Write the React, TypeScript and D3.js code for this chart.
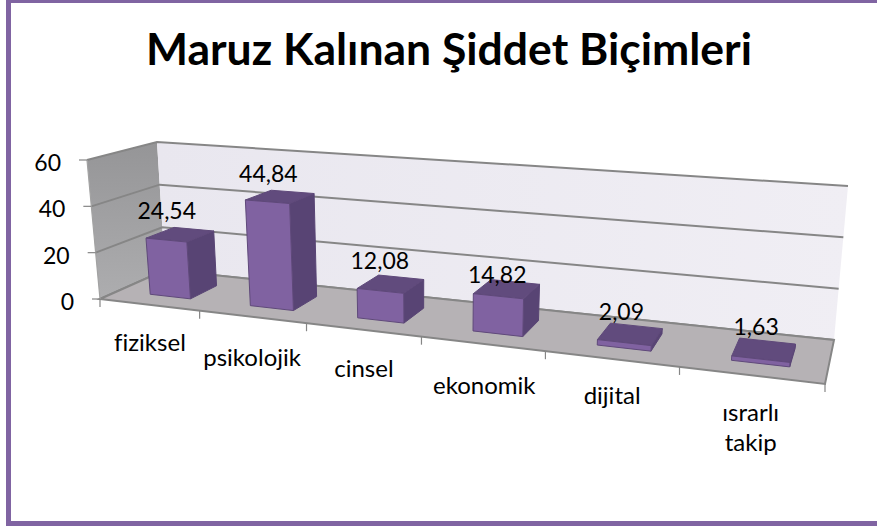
import React, { useRef, useEffect } from "react";
import * as d3 from "d3";

const titleText = "Maruz Kalınan Şiddet Biçimleri";
const categories = ["fiziksel", "psikolojik", "cinsel", "ekonomik", "dijital", "ısrarlı takip"];
const values = [24.54, 44.84, 12.08, 14.82, 2.09, 1.63];
const valueLabels = ["24,54", "44,84", "12,08", "14,82", "2,09", "1,63"];
const yTicks = [0, 20, 40, 60];

const WIDTH = 877;
const HEIGHT = 526;
const FONT = "Lato, 'Open Sans', sans-serif";

// hand nudges for where the text sits relative to its bar / slot
const valueNudge = [[2, 2], [3, 3], [2, 2], [2, 10], [1, 1], [0, 0]];
const categoryNudge = [[1, -1], [0, 2], [1, 0], [2, 3], [1, -2], [0, -2]];

type Pt = [number, number];

// square -> quad perspective map, corners in order front-left, front-right, back-right, back-left
const makeWarp = (q: Pt[]) => {
    const [[x0, y0], [x1, y1], [x2, y2], [x3, y3]] = q;
    const sx = x0 - x1 + x2 - x3;
    const sy = y0 - y1 + y2 - y3;
    const dx1 = x1 - x2;
    const dx2 = x3 - x2;
    const dy1 = y1 - y2;
    const dy2 = y3 - y2;
    const den = dx1 * dy2 - dx2 * dy1;
    const g = (sx * dy2 - dx2 * sy) / den;
    const h = (dx1 * sy - sx * dy1) / den;
    return (u: number, d: number): Pt => {
        const w = g * u + h * d + 1;
        return [
            ((x1 - x0 + g * x1) * u + (x3 - x0 + h * x3) * d + x0) / w,
            ((y1 - y0 + g * y1) * u + (y3 - y0 + h * y3) * d + y0) / w,
        ];
    };
};

const floorWarp = makeWarp([[100, 299], [825, 384], [834, 340], [165, 270]]);
const topWarp = makeWarp([[87, 160], [838, 213.5], [848, 186], [157, 142]]);

const App = () => {
    const svgRef = useRef(null);

    useEffect(() => {
        const svg = d3.select(svgRef.current);
        svg.selectAll("*").remove();

        const xScale = d3.scaleLinear().domain([0, categories.length]).range([0, 1]);
        const yScale = d3.scaleLinear().domain([0, 60]).range([0, 1]);

        // category position (in slots), depth 0-1, value
        const project = (slot: number, depth: number, value: number): Pt => {
            const a = floorWarp(xScale(slot), depth);
            const b = topWarp(xScale(slot), depth);
            const t = yScale(value);
            return [a[0] + (b[0] - a[0]) * t, a[1] + (b[1] - a[1]) * t];
        };

        const path = d3.line().curve(d3.curveLinearClosed);
        const openPath = d3.line();
        const nCat = categories.length;

        const addText = (x: number, y: number, text: any, size: number, anchor = "middle") =>
            svg.append("text")
                .attr("x", x)
                .attr("y", y)
                .attr("text-anchor", anchor)
                .attr("dominant-baseline", "central")
                .style("font-family", FONT)
                .style("font-size", `${size}px`)
                .style("font-variant-ligatures", "none")
                .attr("fill", "#000")
                .text(text);

        const defs = svg.append("defs");
        const wallGrad = defs.append("linearGradient").attr("id", "wall").attr("x1", 0).attr("y1", 0).attr("x2", 1).attr("y2", 0);
        wallGrad.append("stop").attr("offset", "0%").attr("stop-color", "#e9e7ef");
        wallGrad.append("stop").attr("offset", "100%").attr("stop-color", "#f0eef4");
        const sideGrad = defs.append("linearGradient").attr("id", "side").attr("x1", 0).attr("y1", 0).attr("x2", 0).attr("y2", 1);
        sideGrad.append("stop").attr("offset", "0%").attr("stop-color", "#959597");
        sideGrad.append("stop").attr("offset", "100%").attr("stop-color", "#adadaf");

        svg.append("rect").attr("width", WIDTH).attr("height", HEIGHT).attr("fill", "#fff");

        // frame, only top, left and bottom show up in the crop
        const frame = "#8064a2";
        svg.append("rect").attr("x", 6).attr("y", 0).attr("width", 5).attr("height", HEIGHT).attr("fill", frame);
        svg.append("rect").attr("x", 6).attr("y", 0).attr("width", WIDTH).attr("height", 3).attr("fill", frame);
        svg.append("rect").attr("x", 6).attr("y", 521).attr("width", WIDTH).attr("height", 5).attr("fill", frame);

        svg.append("text")
            .attr("x", 449)
            .attr("y", 65)
            .attr("text-anchor", "middle")
            .style("font-family", FONT)
            .style("font-weight", 700)
            .style("font-size", "44.5px")
            .style("font-variant-ligatures", "none")
            .attr("fill", "#000")
            .text(titleText);

        // walls and floor
        svg.append("path")
            .attr("d", path([project(0, 0, 0), project(0, 1, 0), project(0, 1, 60), project(0, 0, 60)]))
            .attr("fill", "url(#side)");
        svg.append("path")
            .attr("d", path([project(0, 1, 0), project(nCat, 1, 0), project(nCat, 1, 60), project(0, 1, 60)]))
            .attr("fill", "url(#wall)");

        const gridColor = "#868686";
        yTicks.forEach((t) => {
            svg.append("path")
                .attr("d", openPath([project(0, 0, t), project(0, 1, t), project(nCat, 1, t)]))
                .attr("fill", "none")
                .attr("stroke", gridColor)
                .attr("stroke-width", 2);
        });

        svg.append("path")
            .attr("d", path([project(0, 0, 0), project(nCat, 0, 0), project(nCat, 1, 0), project(0, 1, 0)]))
            .attr("fill", "#b6b2b5")
            .attr("stroke", gridColor)
            .attr("stroke-width", 2);

        svg.append("path")
            .attr("d", openPath([project(0, 0, 0), project(0, 0, 60)]))
            .attr("stroke", "#a2a2a2")
            .attr("stroke-width", 1.2);

        // y ticks and labels
        yTicks.forEach((t) => {
            const [px, py] = project(0, 0, t);
            svg.append("path")
                .attr("d", openPath([[px, py], [px - 8, py]]))
                .attr("stroke", gridColor)
                .attr("stroke-width", 1.2);
            addText(px - 26, py + 2, t, 23, "end");
        });

        // x ticks
        d3.range(nCat + 1).forEach((i) => {
            const [px, py] = project(i, 0, 0);
            svg.append("path")
                .attr("d", openPath([[px, py], [px, py + 8]]))
                .attr("stroke", gridColor)
                .attr("stroke-width", 1.2);
        });

        // bars
        const barLeft = 0.33;
        const barRight = 0.74;
        const barFront = 0.27;
        const barBack = 0.7;
        values.forEach((v, i) => {
            const l = i + barLeft;
            const r = i + barRight;
            const g = svg.append("g").attr("stroke-linejoin", "round");
            g.append("path")
                .attr("d", path([project(r, barFront, 0), project(r, barBack, 0), project(r, barBack, v), project(r, barFront, v)]))
                .attr("fill", "#584474")
                .attr("stroke", "#584474");
            g.append("path")
                .attr("d", path([project(l, barFront, v), project(r, barFront, v), project(r, barBack, v), project(l, barBack, v)]))
                .attr("fill", "#614b7d")
                .attr("stroke", "#5f497a");
            g.append("path")
                .attr("d", path([project(l, barFront, 0), project(r, barFront, 0), project(r, barFront, v), project(l, barFront, v)]))
                .attr("fill", "#8062a1")
                .attr("stroke", "#5f497a");
        });

        // value labels
        valueLabels.forEach((label, i) => {
            const [px, py] = project(i + 0.5, 0.3, values[i]);
            addText(px + valueNudge[i][0], py - 31 + valueNudge[i][1], label, 23);
        });

        // category labels, last one wraps
        categories.forEach((name, i) => {
            const [px, py] = project(i + 0.5, 0, 0);
            name.split(" ").forEach((line, j) => {
                addText(px + categoryNudge[i][0], py + 38 + categoryNudge[i][1] + j * 30, line, 24);
            });
        });
    }, []);

    return (
        <svg
            ref={svgRef}
            width={WIDTH}
            height={HEIGHT}
            style={{ position: "absolute", left: 0, top: 0 }}
        ></svg>
    );
};

export default App;
